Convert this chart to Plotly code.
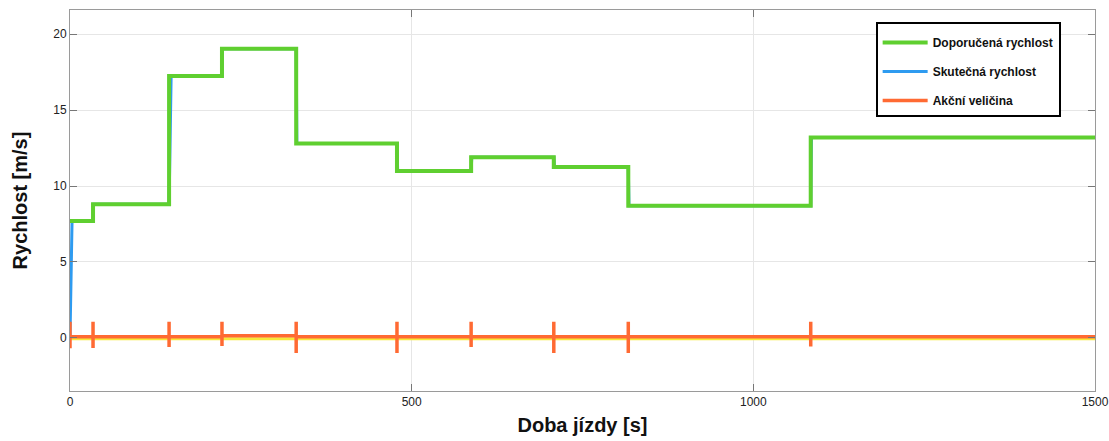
import plotly.graph_objects as go

# Recommended speed (step profile): switching times and values
step_times = [0, 33.7, 145, 222.4, 331, 478.5, 587, 708, 817, 1084, 1500]
step_values = [7.7, 8.8, 17.25, 19.05, 12.8, 11.0, 11.9, 11.25, 8.7, 13.2, 13.2]

# Actual speed
actual_t = [0, 3, 33.7, 34.5, 145, 148, 222.4, 223, 331, 332, 478.5, 479.5, 587, 588, 708, 709, 817, 818, 1084, 1085, 1500]
actual_v = [0.0, 7.7, 7.7, 8.8, 8.8, 17.25, 17.25, 19.05, 19.05, 12.8, 12.8, 11.0, 11.0, 11.9, 11.9, 11.25, 11.25, 8.7, 8.7, 13.2, 13.2]

# Control action: spikes at switching times
spike_times = [0, 33.7, 145, 222.4, 331, 478.5, 587, 708, 817, 1084]
spike_top = [1.07, 1.07, 1.07, 1.07, 1.07, 1.07, 1.07, 1.07, 1.07, 1.07]
spike_bottom = [-0.68, -0.66, -0.6, -0.53, -1.0, -1.0, -0.6, -1.0, -1.0, -0.57]
base_level = [0.08, 0.08, 0.08, 0.14, 0.08, 0.08, 0.08, 0.08, 0.08, 0.08]

# Auxiliary (yellow) signal
aux_t = [0, 1500]
aux_v = [-0.05, -0.05]

# Build stepped line for the recommended speed
green_x, green_y = [], []
for i in range(len(step_times) - 1):
    green_x += [step_times[i], step_times[i + 1]]
    green_y += [step_values[i], step_values[i]]

# Build control-action line with spikes
orange_x, orange_y = [], []
for i, t in enumerate(spike_times):
    orange_x += [t, t, t, t]
    orange_y += [base_level[i], spike_top[i], spike_bottom[i], base_level[i]]
    t_next = spike_times[i + 1] if i + 1 < len(spike_times) else 1500
    orange_x.append(t_next)
    orange_y.append(base_level[i])

fig = go.Figure()
fig.add_trace(go.Scatter(x=aux_t, y=aux_v, mode="lines",
                         line=dict(color="#f7e83a", width=3), showlegend=False,
                         hoverinfo="skip"))
fig.add_trace(go.Scatter(x=actual_t, y=actual_v, mode="lines", name="Skutečná rychlost",
                         line=dict(color="#2e9bf0", width=3), legendgroup="b", legendrank=2))
fig.add_trace(go.Scatter(x=green_x, y=green_y, mode="lines", name="Doporučená rychlost",
                         line=dict(color="#5fcf30", width=4), legendgroup="a", legendrank=1))
fig.add_trace(go.Scatter(x=orange_x, y=orange_y, mode="lines", name="Akční veličina",
                         line=dict(color="#ff6a33", width=3.5), legendgroup="c", legendrank=3))

axis_common = dict(
    showline=True, linecolor="#9a9a9a", linewidth=1, mirror="ticks",
    ticks="inside", ticklen=7, tickcolor="#777777", tickwidth=1,
    showgrid=True, gridcolor="#e6e6e6", gridwidth=1, zeroline=False,
    tickfont=dict(family="Liberation Sans, Arial", size=12, color="#222222"),
)

fig.update_xaxes(range=[0, 1500], tickvals=[0, 500, 1000, 1500],
                 title=dict(text="<b>Doba jízdy [s]</b>", standoff=9,
                            font=dict(family="Liberation Sans, Arial", size=20, color="#111111")),
                 tickprefix="<b>", ticksuffix="</b>", **axis_common)
fig.update_yaxes(range=[-3.5, 21.6], tickvals=[0, 5, 10, 15, 20],
                 title=dict(text="<b>Rychlost [m/s]</b>", standoff=20,
                            font=dict(family="Liberation Sans, Arial", size=20, color="#111111")),
                 tickprefix="<b>", ticksuffix="</b>", **axis_common)

fig.update_layout(
    width=1109, height=441,
    margin=dict(l=70, r=14, t=10, b=50, autoexpand=False),
    paper_bgcolor="white", plot_bgcolor="white",
    legend=dict(x=0.786, y=0.968, xanchor="left", yanchor="top",
                bgcolor="white", bordercolor="black", borderwidth=2,
                tracegroupgap=10, itemwidth=45,
                title=dict(text=" ", font=dict(size=3)),
                font=dict(family="Liberation Sans, Arial", size=12, color="#111111")),
)
for tr in fig.data:
    if tr.name:
        tr.name = "<b>" + tr.name + "</b>"

# Remove the default 8px body margin so the figure fills the window exactly
fig.write_html("out.html", config={"displayModeBar": False},
               post_script="document.body.style.margin='0';document.body.style.overflow='hidden';")
